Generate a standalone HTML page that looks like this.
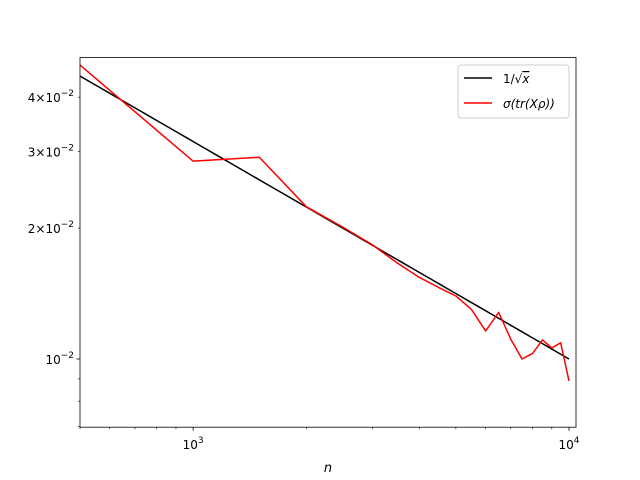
<!DOCTYPE html>
<html><head><meta charset="utf-8"><style>
body{margin:0;background:#fff}
svg{display:block;font-family:"DejaVu Sans","Liberation Sans",sans-serif}
</style></head><body>
<svg id="chart" width="640" height="480">
<g id="plot"></g>
<rect x="80" y="57.6" width="496" height="369.6" fill="none" stroke="#000" stroke-width="0.8"/>
<text x="328" y="472" text-anchor="middle" font-size="13" font-style="italic">n</text>
<g>
<rect x="458" y="65" width="111" height="53" rx="3" fill="#fff" fill-opacity="0.8" stroke="#ccc" stroke-width="1"/>
<line x1="464" y1="78" x2="492" y2="78" stroke="#000" stroke-width="1.5"/>
<text x="503" y="83" font-size="12">1/√<tspan font-style="italic" text-decoration="overline">x</tspan></text>
<line x1="464" y1="103" x2="492" y2="103" stroke="#f00" stroke-width="1.5"/>
<text x="503" y="108" font-size="12" font-style="italic">σ(tr(Xρ))</text>
</g>
</svg>
<script>
const nValues=[500,1000,1500,2000,2500,3000,3500,4000,4500,5000,5500,6000,6500,7000,7500,8000,8500,9000,9500,10000];
const sigmaValues=[0.0474,0.0285,0.0291,0.0224,0.0201,0.0183,0.0166,0.0154,0.0146,0.01396,0.0130,0.0116,0.0128,0.0111,0.0100,0.0103,0.01106,0.0106,0.0109,0.0089];
const refX=[500,10000];
const yMajorTicks=[0.01];
const yLabeledMinor=[[0.02,"2"],[0.03,"3"],[0.04,"4"]];
const yMinorTicks=[0.007,0.008,0.009,0.02,0.03,0.04];
const xMajorTicks=[1000,10000];
const L=80,R=576,T=57.6,B=427.2;
const xl0=Math.log10(500),xl1=4.0186,yl0=-2.1568,yl1=-1.307;
const sx=v=>L+(Math.log10(v)-xl0)/(xl1-xl0)*(R-L);
const sy=v=>B-(Math.log10(v)-yl0)/(yl1-yl0)*(B-T);
const NS="http://www.w3.org/2000/svg";
const g=document.getElementById('plot');
function mk(t,a){const e=document.createElementNS(NS,t);for(const k in a)e.setAttribute(k,a[k]);g.appendChild(e);return e;}
for(let d=2;d<=4;d++)for(let m=1;m<10;m++){const v=m*Math.pow(10,d);if(v<500||v>10440)continue;
 const major=m===1;const x=sx(v);
 const t=mk('line',{x1:x,x2:x,y1:B,y2:B+(major?3.5:2),stroke:'#000','stroke-width':major?0.8:0.6});
 }
xMajorTicks.forEach(v=>{const t=mk('text',{x:sx(v),y:B+22,'text-anchor':'middle','font-size':'12'});
 t.innerHTML='10<tspan dy="-6" font-size="9">'+Math.round(Math.log10(v))+'</tspan>';
 });
yMinorTicks.forEach(v=>{const y=sy(v);const t=mk('line',{x1:L-2,x2:L,y1:y,y2:y,stroke:'#000','stroke-width':0.6});
 });
yMajorTicks.forEach(v=>{const y=sy(v);const t=mk('line',{x1:L-3.5,x2:L,y1:y,y2:y,stroke:'#000','stroke-width':0.8});
 
 const l=mk('text',{x:L-6,y:y+5,'text-anchor':'end','font-size':'12'});
 l.innerHTML='10<tspan dy="-6" font-size="9">−2</tspan>';
 });
yLabeledMinor.forEach(([v,s])=>{const y=sy(v);const l=mk('text',{x:L-6,y:y+5,'text-anchor':'end','font-size':'12'});
 l.innerHTML=s+'×10<tspan dy="-6" font-size="9">−2</tspan>';
 });
const rp=[];for(let i=0;i<=50;i++){const v=refX[0]*Math.pow(refX[1]/refX[0],i/50);rp.push(sx(v)+','+sy(1/Math.sqrt(v)));}
const r=mk('polyline',{points:rp.join(' '),fill:'none',stroke:'#000','stroke-width':1.5});

const sp=nValues.map((v,i)=>sx(v)+','+sy(sigmaValues[i])).join(' ');
const s=mk('polyline',{points:sp,fill:'none',stroke:'#f00','stroke-width':1.5,'stroke-linejoin':'round'});

</script>
</body></html>
